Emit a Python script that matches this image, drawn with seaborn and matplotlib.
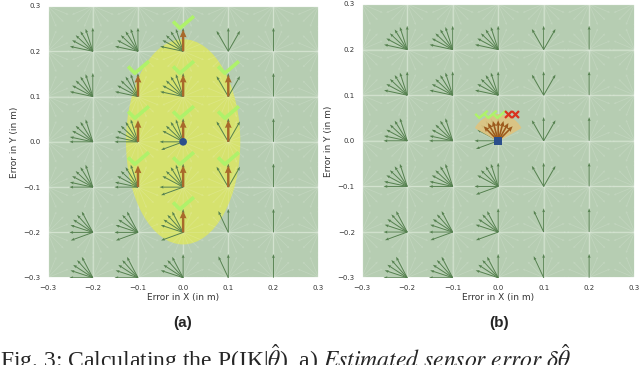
import numpy as np
import pandas as pd
import matplotlib
matplotlib.use('Agg')
import matplotlib.pyplot as plt
from matplotlib.patches import Ellipse, Wedge
from matplotlib.path import Path
import seaborn as sns

# grid of robot positions (in m)
grid_ticks = [-0.3, -0.2, -0.1, 0.0, 0.1, 0.2, 0.3]
fan_x = [-0.2, -0.1, 0.0, 0.1, 0.2]
fan_y = [0.2, 0.1, 0.0, -0.1, -0.2, -0.3]

# feasible heading fans (degrees) per column, upper rows / middle / lower rows
fan_upper = {-0.2: [90, 108, 122, 137, 152, 168],
             -0.1: [90, 108, 122, 137, 152, 168],
             0.0: [90, 108, 122, 137, 152, 168],
             0.1: [60, 90, 120],
             0.2: [90]}
fan_mid = {-0.2: [108, 122, 137, 152, 168, 180],
           -0.1: [108, 122, 137, 152, 168, 180],
           0.0: [90, 108, 122, 137, 152, 180, 200],
           0.1: [60, 90, 120],
           0.2: [90]}
fan_lower = {-0.2: [118, 132, 147, 162, 180, 200],
             -0.1: [118, 132, 147, 162, 180, 200],
             0.0: [90, 118, 132, 147, 162, 200],
             0.1: [90, 115],
             0.2: [90]}
fan_len = 0.052
faint_dirs = np.arange(0, 360, 22.5)
faint_len = 0.05

# (a) points inside the uncertainty ellipse
ok_x = [0.0, -0.1, 0.0, 0.1, -0.1, 0.0, 0.1, -0.1, 0.0, 0.1, 0.0]
ok_y = [0.2, 0.1, 0.1, 0.1, 0.0, 0.0, 0.0, -0.1, -0.1, -0.1, -0.2]
ell_w, ell_h = 0.25, 0.45
head_len = 0.048

# (b) heading samples at the estimate
head_angles = [45, 60, 75, 90, 105, 120, 135]
head_len_b = 0.045
check_x = [-0.038, -0.018, 0.002]
cross_x = [0.021, 0.036]
mark_y = 0.058

sns.set_theme(style='darkgrid', rc={'axes.facecolor': '#b6cdb2',
                                    'grid.color': '#cddec9',
                                    'grid.linewidth': 1.0})
plt.rcParams['mathtext.fontset'] = 'stix'

check_mark = Path([(-1.0, 0.1), (-0.35, -0.55), (1.0, 0.6)],
                  [Path.MOVETO, Path.LINETO, Path.LINETO])
cross_mark = Path([(-1, -1), (1, 1), (-1, 1), (1, -1)],
                  [Path.MOVETO, Path.LINETO, Path.MOVETO, Path.LINETO])

fig = plt.figure(figsize=(6.4, 3.65), dpi=100)
ax_a = fig.add_axes([0.0745, 0.2392, 0.4233, 0.7444])
ax_b = fig.add_axes([0.5652, 0.2392, 0.4264, 0.7500])


def draw_base(ax):
    gx, gy = np.meshgrid(grid_ticks, grid_ticks)
    for d in faint_dirs:
        u = faint_len * np.cos(np.radians(d))
        v = faint_len * np.sin(np.radians(d))
        ax.quiver(gx, gy, np.full(gx.shape, u), np.full(gx.shape, v),
                  angles='xy', scale_units='xy', scale=1, color='white',
                  alpha=0.15, width=0.003, headwidth=3, headlength=3,
                  headaxislength=3, zorder=2)
    rows = []
    for y in fan_y:
        table = fan_upper if y > 0.05 else (fan_mid if y > -0.15 else fan_lower)
        for x in fan_x:
            for d in table[x]:
                rows.append((x, y, fan_len * np.cos(np.radians(d)),
                             fan_len * np.sin(np.radians(d))))
    fans = pd.DataFrame(rows, columns=['x', 'y', 'u', 'v'])
    ax.quiver(fans.x, fans.y, fans.u, fans.v, angles='xy', scale_units='xy',
              scale=1, color='#55814f', width=0.0036, headwidth=3,
              headlength=4, headaxislength=3.5, zorder=3)


def style(ax):
    ax.set_xlim(-0.3, 0.3)
    ax.set_ylim(-0.3, 0.3)
    ax.set_xticks(grid_ticks)
    ax.set_yticks(grid_ticks)
    ax.tick_params(labelsize=5, colors='#333333', pad=5, length=0)
    ax.set_xlabel('Error in X (in m)', fontsize=6.5, color='#333333', labelpad=2)
    ax.set_ylabel('Error in Y (in m)', fontsize=6.5, color='#333333', labelpad=3)


# (a)
ax_a.add_patch(Ellipse((0, 0), ell_w, ell_h, color='#d6e26e', zorder=1))
draw_base(ax_a)
ax_a.quiver(ok_x, ok_y, np.zeros(len(ok_x)), np.full(len(ok_x), head_len),
            angles='xy', scale_units='xy', scale=1, color='#a8692b',
            width=0.009, headwidth=2.8, headlength=3.2, headaxislength=3, zorder=4)
ax_a.plot(ok_x, np.array(ok_y) + 0.065, linestyle='none', marker=check_mark,
          ms=15, mew=2.6, mfc='none', mec='#aef26a', zorder=5)
sns.scatterplot(x=[0.0], y=[0.0], ax=ax_a, color='#2b4f8c', s=30,
                edgecolor='none', zorder=6)
style(ax_a)

# (b)
draw_base(ax_b)
ax_b.add_patch(Wedge((0, 0), 0.057, 30, 150, color='#dec480', alpha=0.9, zorder=4))
ax_b.quiver(np.zeros(len(head_angles)), np.zeros(len(head_angles)),
            head_len_b * np.cos(np.radians(head_angles)),
            head_len_b * np.sin(np.radians(head_angles)),
            angles='xy', scale_units='xy', scale=1, color='#9c5a1c',
            width=0.006, headwidth=3, headlength=3.5, headaxislength=3, zorder=5)
ax_b.plot(check_x, [mark_y] * len(check_x), linestyle='none', marker=check_mark,
          ms=9, mew=1.8, mfc='none', mec='#aef26a', zorder=6)
ax_b.plot(cross_x, [mark_y] * len(cross_x), linestyle='none', marker=cross_mark,
          ms=5, mew=1.6, mfc='none', mec='#d9331f', zorder=6)
sns.scatterplot(x=[0.0], y=[0.0], ax=ax_b, color='#2b4f8c', marker='s', s=30,
                edgecolor='none', zorder=7)
style(ax_b)

fig.text(0.286, 0.115, '(a)', fontsize=11, fontweight='bold',
         family='Liberation Sans', ha='center', va='center')
fig.text(0.78, 0.115, '(b)', fontsize=11, fontweight='bold',
         family='Liberation Sans', ha='center', va='center')
fig.text(0.0, -0.008, 'Fig. 3: Calculating the P(IK|$\\hat{\\theta}$), a) $Estimated\\ sensor\\ error$ $\\delta\\hat{\\theta}$',
         fontsize=17, family='Liberation Serif', ha='left', va='baseline')

fig.savefig('out.png', dpi=100)
